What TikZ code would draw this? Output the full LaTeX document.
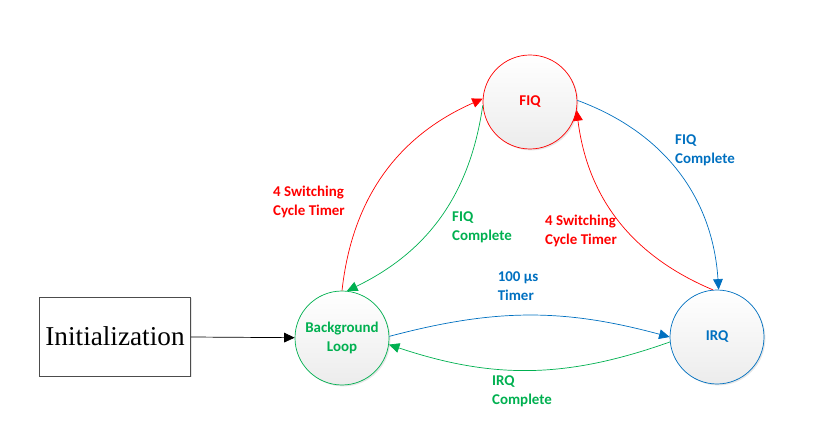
\documentclass[tikz,border=0pt]{standalone}
\usepackage{fontspec}
\setmainfont{Carlito}
\newfontfamily\initfont{Liberation Serif}
\usetikzlibrary{arrows.meta, shadows}

\definecolor{fiqred}{RGB}{255,0,0}
\definecolor{bggreen}{RGB}{0,176,80}
\definecolor{irqblue}{RGB}{0,112,192}

\begin{document}
\begin{tikzpicture}[
    state/.style={circle, draw, thin, minimum size=1.88cm, inner sep=0pt, align=center, top color=white, bottom color=gray!15, font=\bfseries\fontsize{8.5}{11}\selectfont, drop shadow={shadow xshift=0.8pt, shadow yshift=-0.8pt, opacity=0.2}},
    initbox/.style={rectangle, draw=gray!60!black, minimum width=3cm, minimum height=1.58cm, fill=white, font=\initfont\fontsize{15.5}{18}\selectfont, drop shadow={shadow xshift=0.8pt, shadow yshift=-0.8pt, opacity=0.2}},
    lbl/.style={align=left, font=\bfseries\fontsize{8.5}{11}\selectfont},
    arrow/.style={-{Triangle[length=6pt, width=5.5pt]}, thin}
]
\useasboundingbox (0,0) rectangle (16.26,-8.58);

\node[initbox] (init) at (2.3, -6.73) {Initialization};
\node[state, draw=bggreen, text=bggreen] (bgloop) at (6.84, -6.76) {Background\\Loop};
\node[state, draw=fiqred, text=fiqred] (fiq) at (10.6, -2.04) {FIQ};
\node[state, draw=irqblue, text=irqblue] (irq) at (14.34, -6.74) {IRQ};

% Labels
\node[lbl, text=fiqred]  (swleft)  at (6.18, -4.04)  {4 Switching\\Cycle Timer};
\node[lbl, text=bggreen] (fiqdone) at (9.64, -4.54)  {FIQ\\Complete};
\node[lbl, text=fiqred]  (swright) at (11.62, -4.62) {4 Switching\\Cycle Timer};
\node[lbl, text=irqblue] (fiqback) at (14.1, -3.0)   {FIQ\\Complete};
\node[lbl, text=irqblue] (tmr)     at (10.36, -5.72) {100 µs\\Timer};
\node[lbl, text=bggreen] (irqdone) at (10.44, -7.82) {IRQ\\Complete};

% Edges
\draw[arrow] (init) -- (bgloop);

\draw[arrow, fiqred]  (bgloop.90) to[bend left=30] (fiq.176);
\draw[arrow, bggreen] (fiq.184) to[bend left=28] (bgloop.84);

\draw[arrow, irqblue] (fiq.2) to[bend left=33] (irq.88);
\draw[arrow, fiqred]  (irq.95) to[bend left=30] (fiq.-10);

\draw[arrow, irqblue] (bgloop.2) to[bend left=15] (irq.180);
\draw[arrow, bggreen] (irq.186) to[bend left=19] (bgloop.-8);

\end{tikzpicture}
\end{document}
